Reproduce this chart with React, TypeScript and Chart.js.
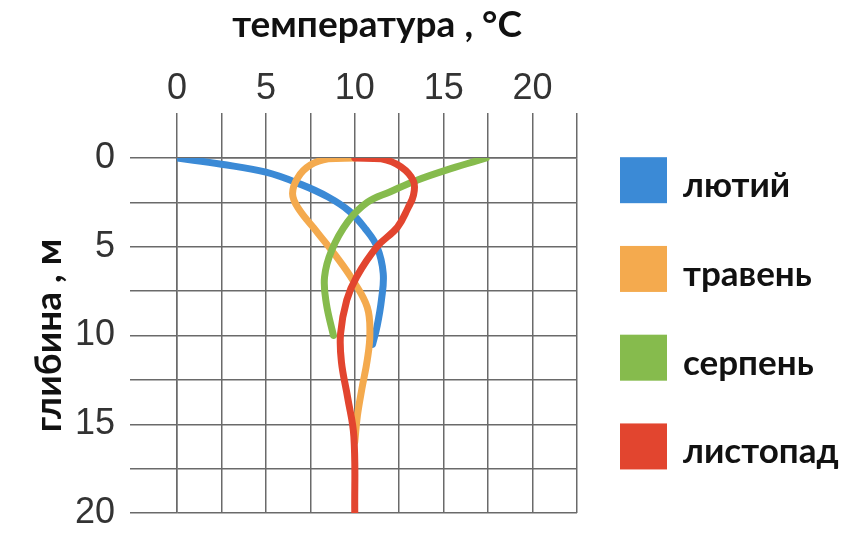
import React, { useEffect, useRef } from "react";
import { Chart, registerables } from "chart.js";

Chart.register(...registerables);

// ---- data ----
const seriesNames = ["лютий", "травень", "серпень", "листопад"];
const seriesColors = ["#3b8ad6", "#f4aa4e", "#86bb4d", "#e2452f"];

const febTemp = [0, 2.5, 5.0, 7.0, 8.5, 9.7, 10.6, 11.25, 11.6, 11.5, 11.25, 11.0];
const febDepth = [0, 0.35, 0.8, 1.5, 2.2, 3.0, 4.0, 5.0, 6.5, 8.0, 9.5, 10.5];

const mayTemp = [10, 8.5, 7.5, 6.8, 6.5, 6.8, 7.9, 9.0, 9.9, 10.7, 10.85, 10.7, 10.4, 10.15, 10.0];
const mayDepth = [0, 0.05, 0.4, 1.1, 2.0, 2.8, 4.2, 5.6, 6.9, 8.4, 9.9, 11.4, 13.0, 14.5, 16.0];

const augTemp = [17.4, 15.4, 13.5, 12.0, 10.7, 9.6, 8.7, 8.3, 8.4, 8.8];
const augDepth = [0, 0.6, 1.25, 1.9, 2.5, 3.6, 5.2, 6.7, 8.2, 10.0];

const novTemp = [10, 11.5, 12.6, 13.3, 13.3, 13.0, 12.4, 11.25, 10.1, 9.55, 9.2, 9.25, 9.6, 9.95, 10.0];
const novDepth = [0, 0.05, 0.5, 1.3, 2.1, 2.8, 3.9, 5.0, 6.7, 8.0, 9.9, 11.5, 13.5, 15.7, 20.0];

const xTickLabels = [0, 5, 10, 15, 20];
const yTickLabels = [0, 5, 10, 15, 20];

const xTitle = "температура , °C";
const yTitle = "глибина , м";

const allTemps = [febTemp, mayTemp, augTemp, novTemp];
const allDepths = [febDepth, mayDepth, augDepth, novDepth];

const titleFont = "Lato, 'Open Sans', sans-serif";
const tickFont = "'Liberation Sans', Arial, sans-serif";

const sideLegend = {
  id: "sideLegend",
  afterDraw(chart: any) {
    const ctx = chart.ctx;
    const yScale = chart.scales.y;
    const left = chart.chartArea.right + 43;
    ctx.save();
    seriesNames.forEach((name, i) => {
      const cy = yScale.getPixelForValue(1.25 + 5 * i);
      ctx.fillStyle = seriesColors[i];
      ctx.fillRect(left, cy - 23, 47, 46);
      ctx.fillStyle = "#111";
      ctx.font = `bold 35px ${titleFont}`;
      ctx.textAlign = "left";
      ctx.textBaseline = "alphabetic";
      ctx.fillText(name, left + 63, cy + 17);
    });
    ctx.restore();
  },
};

export default function App() {
  const canvasRef = useRef<HTMLCanvasElement | null>(null);

  useEffect(() => {
    if (!canvasRef.current) return;
    const datasets = seriesNames.map((name, i) => ({
      label: name,
      data: allTemps[i].map((t, j) => ({ x: t, y: allDepths[i][j] })),
      borderColor: seriesColors[i],
      backgroundColor: seriesColors[i],
      borderWidth: 7,
      pointRadius: 0,
      tension: 0.4,
      fill: false,
      borderCapStyle: "round" as const,
      borderJoinStyle: "round" as const,
      order: 3 - i,
    }));

    const gridColor = "#6a6a6a";

    const chart = new Chart(canvasRef.current, {
      type: "line",
      data: { datasets },
      options: {
        animation: false,
        responsive: true,
        maintainAspectRatio: false,
        layout: { padding: { left: 0, top: 0, right: 273, bottom: 30 } },
        plugins: {
          legend: { display: false },
          tooltip: { enabled: false },
        },
        scales: {
          x: {
            type: "linear",
            position: "top",
            min: 0,
            max: 22.5,
            ticks: {
              stepSize: 2.5,
              padding: 2,
              color: "#333",
              font: { family: tickFont, size: 36 },
              callback: (v: any) => (xTickLabels.includes(Number(v)) ? String(v) : ""),
              maxRotation: 0,
              autoSkip: false,
            },
            grid: { color: gridColor, lineWidth: 1.5, tickLength: 45, drawTicks: true },
            border: { display: true, color: gridColor, width: 1.5 },
            title: {
              display: true,
              text: xTitle,
              color: "#111",
              font: { family: titleFont, size: 37, weight: "bold" },
              padding: { top: 3, bottom: 0 },
            },
            afterFit: (s: any) => {
              s.height = 158;
              s.paddingLeft = 0;
              s.paddingRight = 0;
            },
          },
          y: {
            type: "linear",
            position: "left",
            reverse: true,
            min: 0,
            max: 20,
            ticks: {
              stepSize: 2.5,
              padding: 15,
              color: "#333",
              font: { family: tickFont, size: 36 },
              callback: (v: any) => (yTickLabels.includes(Number(v)) ? String(v) : ""),
              autoSkip: false,
            },
            grid: { color: gridColor, lineWidth: 1.5, tickLength: 47, drawTicks: true },
            border: { display: true, color: gridColor, width: 1.5 },
            title: {
              display: true,
              text: yTitle,
              color: "#111",
              font: { family: titleFont, size: 37, weight: "bold" },
              padding: { top: 27, bottom: 0 },
            },
            afterFit: (s: any) => {
              s.width = 177;
              s.paddingTop = 0;
              s.paddingBottom = 0;
            },
          },
        },
      },
      plugins: [sideLegend],
    });
    return () => chart.destroy();
  }, []);

  return (
    <div style={{ position: "fixed", left: 0, top: 0, width: 850, height: 543, background: "#fff" }}>
      <canvas ref={canvasRef} />
    </div>
  );
}
